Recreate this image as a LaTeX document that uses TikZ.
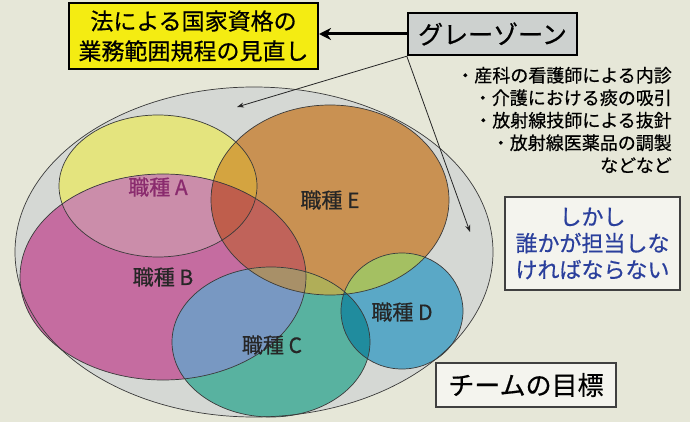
\documentclass[tikz,border=0pt]{standalone}
\usepackage{fontspec}
\setmainfont{Noto Sans CJK JP}[FakeBold=0.6]
\usetikzlibrary{arrows.meta}
\definecolor{bg}{HTML}{E6E7D8}
\definecolor{outerfill}{HTML}{D5D8D4}
\definecolor{cA}{HTML}{E4E47E}
\definecolor{cB}{HTML}{C56CA0}
\definecolor{cE}{HTML}{C99152}
\definecolor{cC}{HTML}{58B2A0}
\definecolor{cD}{HTML}{5AA8C6}
\definecolor{cAB}{HTML}{CB8DAA}
\definecolor{cAE}{HTML}{D4A440}
\definecolor{cBE}{HTML}{C0635A}
\definecolor{cABE}{HTML}{BF5E4C}
\definecolor{cCB}{HTML}{7898C2}
\definecolor{cCE}{HTML}{B0AE58}
\definecolor{cCBE}{HTML}{A89068}
\definecolor{cDE}{HTML}{A4C062}
\definecolor{cDC}{HTML}{208C9E}
\definecolor{yellowbox}{HTML}{F4EC12}
\definecolor{graybox}{HTML}{CDD1CF}
\definecolor{whitebox}{HTML}{F4F4EE}
\definecolor{bluetext}{HTML}{2A3F9C}
\definecolor{labelA}{HTML}{8A2B6E}
\definecolor{outline}{HTML}{3A3A3A}
\tikzset{
  venn/.style={draw=outline, line width=0.7pt},
  vlabel/.style={font=\fontsize{21}{24}\selectfont, text=black!85, inner sep=0pt},
  topbox/.style={draw=black, line width=2pt, inner sep=0pt, align=center},
  plainbox/.style={draw=black!75, line width=1.1pt, fill=whitebox, inner sep=0pt, align=center},
  thinarrow/.style={draw=black!85, line width=0.8pt, -{Stealth[length=7pt,width=5pt]}},
  thickarrow/.style={draw=black, line width=3pt, -{Stealth[length=12pt,width=12pt]}}
}
\begin{document}
\begin{tikzpicture}[x=1pt,y=-1pt]
\useasboundingbox (0,0) rectangle (690,422);
\fill[bg] (0,0) rectangle (690,422);

% outer team goal ellipse
\fill[outerfill] (254,252) ellipse [x radius=239pt, y radius=165pt];

% base fills
\fill[cA] (158,186) ellipse [x radius=99pt, y radius=71pt];
\fill[cB] (163,277) ellipse [x radius=143pt, y radius=103pt];
\fill[cE] (330,200) ellipse [x radius=119pt, y radius=95pt];
\fill[cC] (271,342) ellipse [x radius=99pt, y radius=75pt];
\fill[cD] (402,311) ellipse [x radius=61pt, y radius=58pt];

% intersections
\begin{scope}
  \clip (158,186) ellipse [x radius=99pt, y radius=71pt];
  \fill[cAB] (163,277) ellipse [x radius=143pt, y radius=103pt];
  \fill[cAE] (330,200) ellipse [x radius=119pt, y radius=95pt];
  \clip (163,277) ellipse [x radius=143pt, y radius=103pt];
  \fill[cABE] (330,200) ellipse [x radius=119pt, y radius=95pt];
\end{scope}
\begin{scope}
  \clip (163,277) ellipse [x radius=143pt, y radius=103pt];
  \clip (330,200) ellipse [x radius=119pt, y radius=95pt];
  \fill[cBE] (163,277) ellipse [x radius=143pt, y radius=103pt];
  \fill[cABE] (158,186) ellipse [x radius=99pt, y radius=71pt];
\end{scope}
\begin{scope}
  \clip (271,342) ellipse [x radius=99pt, y radius=75pt];
  \fill[cCB] (163,277) ellipse [x radius=143pt, y radius=103pt];
  \fill[cCE] (330,200) ellipse [x radius=119pt, y radius=95pt];
  \clip (163,277) ellipse [x radius=143pt, y radius=103pt];
  \fill[cCBE] (330,200) ellipse [x radius=119pt, y radius=95pt];
\end{scope}
\begin{scope}
  \clip (402,311) ellipse [x radius=61pt, y radius=58pt];
  \fill[cDE] (330,200) ellipse [x radius=119pt, y radius=95pt];
  \fill[cDC] (271,342) ellipse [x radius=99pt, y radius=75pt];
\end{scope}

% outlines
\draw[venn] (254,252) ellipse [x radius=239pt, y radius=165pt];
\draw[venn] (158,186) ellipse [x radius=99pt, y radius=71pt];
\draw[venn] (163,277) ellipse [x radius=143pt, y radius=103pt];
\draw[venn] (330,200) ellipse [x radius=119pt, y radius=95pt];
\draw[venn] (271,342) ellipse [x radius=99pt, y radius=75pt];
\draw[venn] (402,311) ellipse [x radius=61pt, y radius=58pt];

% labels
\node[vlabel, text=labelA] (lA) at (158,187) {職種 A};
\node[vlabel] (lB) at (163,277) {職種 B};
\node[vlabel] (lE) at (330,200) {職種 E};
\node[vlabel] (lC) at (272,345) {職種 C};
\node[vlabel] (lD) at (402,312) {職種 D};

% top boxes
\node[topbox, fill=yellowbox, minimum width=249pt, minimum height=66pt,
      font=\fontsize{23}{30}\selectfont] (law) at (193.5,36)
      {法による国家資格の\\業務範囲規程の見直し};
\node[topbox, fill=graybox, line width=2.4pt, minimum width=169pt, minimum height=42pt,
      font=\fontsize{25}{28}\selectfont] (gz) at (492.5,34) {グレーゾーン};

\draw[thickarrow] (gz.west) -- (gz.west -| law.east);

\coordinate (t1) at (237,107);
\coordinate (t2) at (470,232);
\draw[thinarrow] (gz.south west) -- (t1);
\draw[thinarrow] (gz.south west) -- (t2);

% examples list
\node[inner sep=0pt, align=right, anchor=east, font=\fontsize{18}{22.5}\selectfont] (ex) at (672,120)
  {・産科の看護師による内診\\・介護における痰の吸引\\・放射線技師による抜針\\・放射線医薬品の調製\\などなど};

% but someone box
\node[plainbox, minimum width=175pt, minimum height=93pt, text=bluetext,
      font=\fontsize{22}{26.5}\selectfont] (but) at (592.5,243.5)
  {しかし\\誰かが担当しな\\ければならない};

% team goal box
\node[plainbox, minimum width=180pt, minimum height=44pt,
      font=\fontsize{26}{30}\selectfont] (goal) at (526,385) {チームの目標};
\end{tikzpicture}
\end{document}
